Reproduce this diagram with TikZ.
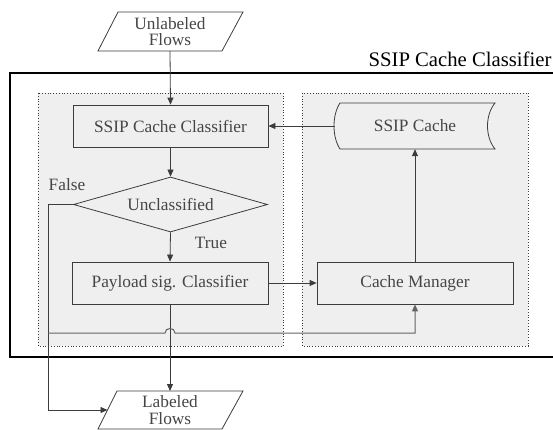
\documentclass[tikz,border=0pt]{standalone}
\usepackage{fontspec}
\setmainfont{Liberation Serif}
\usetikzlibrary{arrows.meta,shapes.geometric,calc}
\definecolor{ln}{HTML}{3C3C3C}
\definecolor{tx}{HTML}{454545}
\definecolor{bg}{HTML}{EFEFEF}
\begin{document}
\begin{tikzpicture}[x=1pt,y=-1pt,
  every node/.style={font=\fontsize{17.3}{16.5}\selectfont, text=tx, inner sep=0pt, align=center},
  boxnode/.style={draw=ln, line width=0.8pt, minimum width=195pt, minimum height=42pt},
  conn/.style={draw=ln, line width=0.8pt},
  arr/.style={conn, -{Triangle[length=7pt,width=6pt]}},
  grp/.style={draw=ln, dotted, line width=0.8pt, fill=bg}
]
\useasboundingbox (0,0) rectangle (553,430);
% outer frame
\draw[line width=2.4pt, black] (570,73) -- (10,73) -- (10,357) -- (570,357);
\node[text=black, font=\fontsize{20.7}{22}\selectfont] (title) at (460,59) {SSIP Cache Classifier};
% group backgrounds
\draw[grp] (38,93) rectangle (283,346);
\draw[grp] (302,93) rectangle (528,346);
% parallelograms
\node[minimum width=100pt, minimum height=39pt] (unl) at (170,31.5) {Unlabeled\\Flows};
\draw[conn] (118,12) -- (243,12) -- (222,51) -- (98,51) -- cycle;
\node[minimum width=100pt, minimum height=38pt] (lab) at (170,410) {Labeled\\Flows};
\draw[conn] (117,391) -- (243,391) -- (222,429) -- (98,429) -- cycle;
% main boxes
\node[boxnode] (scc) at (170.5,126) {SSIP Cache Classifier};
\node[draw=ln, line width=0.8pt, diamond, minimum width=194pt, minimum height=55pt, aspect=3.5] (dia) at (170.5,204.5) {Unclassified};
\node[boxnode, minimum width=196pt] (pay) at (170,283) {Payload sig. Classifier};
\node[boxnode, minimum width=196pt] (cm) at (415,283) {Cache Manager};
\node[minimum width=160pt, minimum height=46pt] (cache) at (415,126) {SSIP Cache};
\draw[conn] (340,103) -- (495,103) .. controls (485,115) and (485,137) .. (495,149)
  -- (340,149) .. controls (332,137) and (332,115) .. (340,103) -- cycle;
% labels
\node (false) at (67,185) {False};
\node (true) at (211,243) {True};
% connectors
\draw[arr] (unl.south) -- (scc.north);
\draw[arr] (scc.south) -- (dia.north);
\draw[arr] (dia.south) -- (pay.north);
\coordinate (fx) at (48,204.5);
\coordinate (labin) at (107.5,410);
\draw[arr] (dia.west) -- (fx) |- (labin);
\draw[arr] (pay.south) -- (170,391);
\draw[arr] (pay.east) -- (cm.west);
\draw[arr] (cm.north) -- (cache.south);
\draw[arr] (cache.west) -- (scc.east);
\coordinate (br) at (48,333);
\draw[draw=ln!80, line width=1pt, -{Triangle[length=7pt,width=6pt]}]
  (br) -- (165,333) .. controls (165,327) and (175,327) .. (175,333) -| (cm.south);
\end{tikzpicture}
\end{document}
